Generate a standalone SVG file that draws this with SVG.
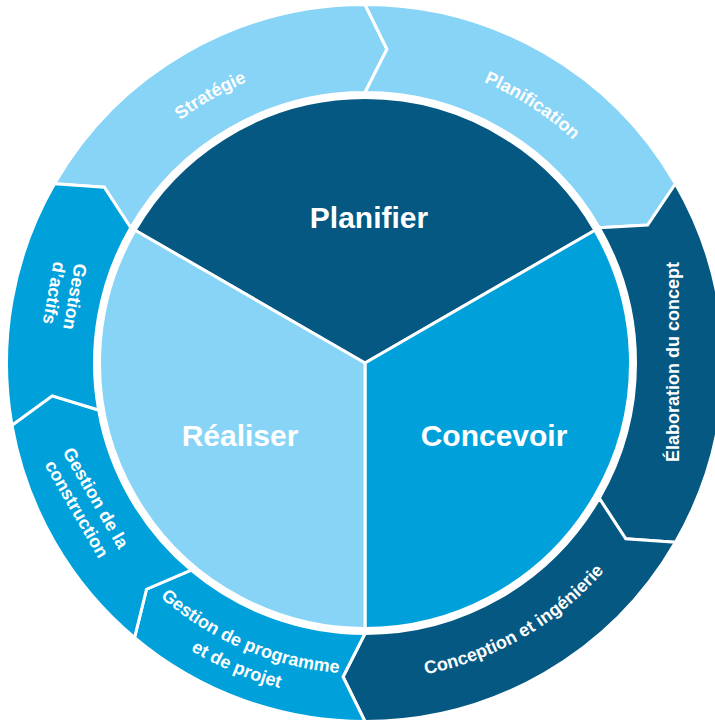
<svg xmlns="http://www.w3.org/2000/svg" width="715" height="721" viewBox="0 0 715 721">
<style>
.seg{stroke:#ffffff;stroke-width:3;stroke-linejoin:miter}
.dark{fill:#045882}
.mid{fill:#00A1DB}
.light{fill:#87D4F7}
.lbl{font-family:"Liberation Sans",Arial,sans-serif;font-weight:bold;fill:#ffffff;text-anchor:middle}
.big{font-size:30px}
.sm{font-size:18px}
</style>
<defs>
<path id="pStrat" d="M78.4,258.7 A305,305 0 0 1 417.96,62.64"/>
<path id="pPlan" d="M327.82,60.29 A305,305 0 0 1 656.67,273.82"/>
<path id="pConc" d="M309.97,675.18 A317,317 0 0 0 662.88,471.41"/>
<path id="pGp1" d="M87.90,504.19 A311,311 0 0 0 455.94,660.41"/>
<path id="pGp2" d="M65.62,515.54 A336,336 0 0 0 463.25,684.32"/>
</defs>
<rect x="0" y="0" width="715" height="721" fill="#ffffff"/>

<g id="ring">
<g id="strategie">
<path class="seg light" d="M130.74,227.75 L104.28,187.13 L54.54,183.75 A358.5,358.5 0 0 1 365,4.5 L386.95,49.25 L365,92.5 A270.5,270.5 0 0 0 130.74,227.75 Z"/>
<text class="lbl sm"><textPath href="#pStrat" startOffset="50%">Stratégie</textPath></text>
</g>
<g id="planification">
<path class="seg light" d="M365,92.5 L386.95,49.25 L365,4.5 A358.5,358.5 0 0 1 675.46,183.75 L647.67,225.12 L599.26,227.75 A270.5,270.5 0 0 0 365,92.5 Z"/>
<text class="lbl sm"><textPath href="#pPlan" startOffset="50%">Planification</textPath></text>
</g>
<g id="elaboration">
<path class="seg dark" d="M599.26,227.75 L647.67,225.12 L675.46,183.75 A358.5,358.5 0 0 1 675.46,542.25 L625.72,538.87 L599.26,498.25 A270.5,270.5 0 0 0 599.26,227.75 Z"/>
<text class="lbl sm" transform="translate(679,362) rotate(-90)">Élaboration du concept</text>
</g>
<g id="conception">
<path class="seg dark" d="M599.26,498.25 L625.72,538.87 L675.46,542.25 A358.5,358.5 0 0 1 365,721.5 L343.05,676.75 L365,633.5 A270.5,270.5 0 0 0 599.26,498.25 Z"/>
<text class="lbl sm"><textPath href="#pConc" startOffset="50%">Conception et ingénierie</textPath></text>
</g>
<g id="gestion-programme">
<path class="seg mid" d="M365,633.5 L343.05,676.75 L365,721.5 A358.5,358.5 0 0 1 134.56,637.61 L146.52,589.22 L191.12,570.20 A270.5,270.5 0 0 0 365,633.5 Z"/>
<text class="lbl sm"><textPath href="#pGp1" startOffset="50%">Gestion de programme</textPath></text>
<text class="lbl sm"><textPath href="#pGp2" startOffset="50%">et de projet</textPath></text>
</g>
<g id="gestion-construction">
<path class="seg mid" d="M191.12,570.20 L146.52,589.22 L134.56,637.61 A358.5,358.5 0 0 1 11.95,425.24 L52.23,395.87 L98.61,409.96 A270.5,270.5 0 0 0 191.12,570.20 Z"/>
<g transform="translate(87,503) rotate(60)">
<text class="lbl sm" x="0" y="-4">Gestion de la</text>
<text class="lbl sm" x="0" y="18">construction</text>
</g>
</g>
<g id="gestion-actifs">
<path class="seg mid" d="M98.61,409.96 L52.23,395.87 L11.95,425.24 A358.5,358.5 0 0 1 54.54,183.75 L104.28,187.13 L130.74,227.75 A270.5,270.5 0 0 0 98.61,409.96 Z"/>
<g transform="translate(65,295) rotate(100)">
<text class="lbl sm" x="0" y="-4">Gestion</text>
<text class="lbl sm" x="0" y="17">d’actifs</text>
</g>
</g>
</g>

<g id="core">
<g id="planifier">
<path class="seg dark" d="M365,363 L135.08,230.25 A265.5,265.5 0 0 1 594.92,230.25 Z"/>
<text class="lbl big" x="369" y="228">Planifier</text>
</g>
<g id="concevoir">
<path class="seg mid" d="M365,363 L594.92,230.25 A265.5,265.5 0 0 1 365,628.5 Z"/>
<text class="lbl big" x="494" y="446">Concevoir</text>
</g>
<g id="realiser">
<path class="seg light" d="M365,363 L365,628.5 A265.5,265.5 0 0 1 135.08,230.25 Z"/>
<text class="lbl big" x="240" y="446">Réaliser</text>
</g>
</g>
<g id="connectors"></g>
</svg>
